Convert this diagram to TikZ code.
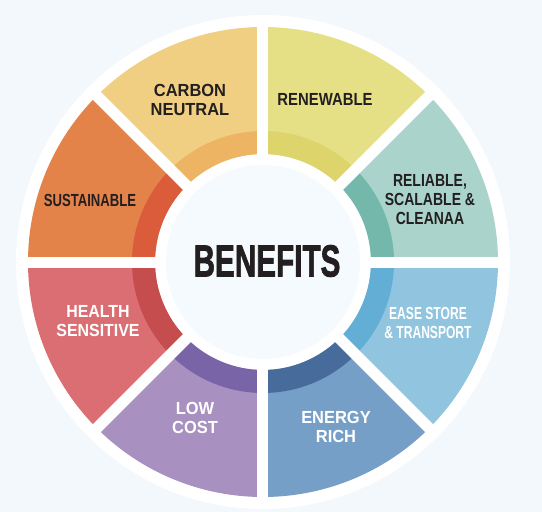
\documentclass[tikz,border=0pt]{standalone}
\usepackage{fontspec}
\setmainfont{Liberation Sans}
\newfontfamily\heavyfont[FakeBold=2]{Liberation Sans}
\usetikzlibrary{positioning}
\definecolor{bgpale}{HTML}{F3F8FC}
\definecolor{hubfill}{HTML}{F5FAFE}
\definecolor{ink}{HTML}{231F20}
\definecolor{relfill}{HTML}{A9D3CB}
\definecolor{relband}{HTML}{74B8AB}
\definecolor{renfill}{HTML}{E5DF85}
\definecolor{renband}{HTML}{DDD56B}
\definecolor{carfill}{HTML}{F1CF82}
\definecolor{carband}{HTML}{ECB463}
\definecolor{susfill}{HTML}{E3834A}
\definecolor{susband}{HTML}{DB5C3B}
\definecolor{heafill}{HTML}{DB6E72}
\definecolor{heaband}{HTML}{C54D4D}
\definecolor{lowfill}{HTML}{A890C0}
\definecolor{lowband}{HTML}{7A64A8}
\definecolor{enefill}{HTML}{769FC8}
\definecolor{eneband}{HTML}{476C9B}
\definecolor{easfill}{HTML}{90C4DF}
\definecolor{easband}{HTML}{63AED5}

\begin{document}
\begin{tikzpicture}[x=1pt, y=1pt,
  lbl/.style={font=\fontsize{17.5}{19}\selectfont\bfseries, inner sep=0pt},
  title/.style={font=\fontsize{45}{45}\selectfont\heavyfont\bfseries, text=ink, inner sep=0pt}]

  % Background
  \fill[bgpale] (-263,-250) rectangle (279,262);
  \useasboundingbox (-263,-250) rectangle (279,262);

  % Outer white ring
  \fill[white] (0,0) circle (247);

  % Segments with inner band
  \foreach \a/\lite/\dark/\tc/\lx/\ly/\sx/\txt in {
      0/relfill/relband/ink/167/60/.8/{RELIABLE,\\SCALABLE \&\\CLEANAA},
     45/renfill/renband/ink/62/160/.85/{RENEWABLE},
     90/carfill/carband/ink/-73/160/.94/{CARBON\\NEUTRAL},
    135/susfill/susband/ink/-173/59/.75/{SUSTAINABLE},
    180/heafill/heaband/white/-165/-61/.91/{HEALTH\\SENSITIVE},
    225/lowfill/lowband/white/-68/-158/.94/{LOW\\COST},
    270/enefill/eneband/white/73/-167/.94/{ENERGY\\RICH},
    315/easfill/easband/white/165/-63/.69/{EASE STORE\\\& TRANSPORT}}
  {
    \fill[\lite] (\a:235) arc[start angle=\a, end angle={\a+45}, radius=235]
      -- ({\a+45}:108) arc[start angle={\a+45}, end angle=\a, radius=108] -- cycle;
    \fill[\dark] (\a:131) arc[start angle=\a, end angle={\a+45}, radius=131]
      -- ({\a+45}:108) arc[start angle={\a+45}, end angle=\a, radius=108] -- cycle;
    \node[lbl, text=\tc] (seg\a) at (\lx,\ly)
      {\scalebox{\sx}[1]{\begin{tabular}{@{}c@{}}\txt\end{tabular}}};
  }

  % White gaps between segments
  \foreach \a in {0,45,...,315}
    \draw[white, line width=11pt] (\a:100) -- (\a:240);

  % Hub
  \fill[hubfill] (0,0) circle (97);
  \node[title] (hub) at (4,1) {\scalebox{0.66}[1]{BENEFITS}};
\end{tikzpicture}
\end{document}
